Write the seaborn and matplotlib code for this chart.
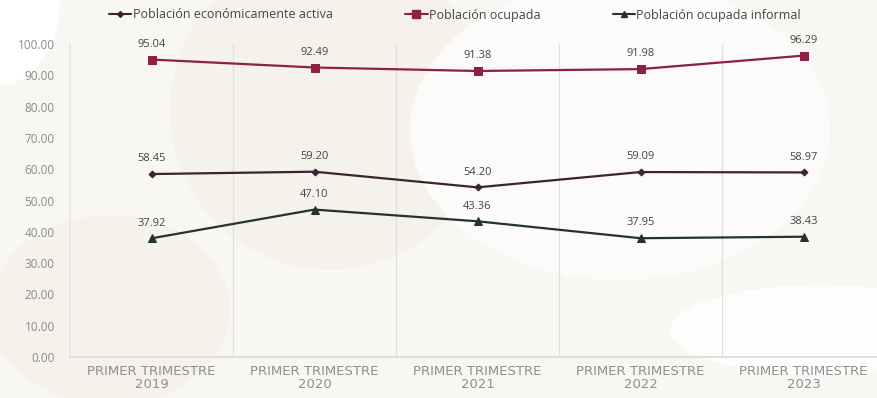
import matplotlib
matplotlib.use("Agg")
import matplotlib.pyplot as plt
from matplotlib.patches import Ellipse
from matplotlib.lines import Line2D
import seaborn as sns
import pandas as pd

periodos = ["PRIMER TRIMESTRE\n2019", "PRIMER TRIMESTRE\n2020", "PRIMER TRIMESTRE\n2021",
            "PRIMER TRIMESTRE\n2022", "PRIMER TRIMESTRE\n2023"]
pea = [58.45, 59.20, 54.20, 59.09, 58.97]
ocupada = [95.04, 92.49, 91.38, 91.98, 96.29]
informal = [37.92, 47.10, 43.36, 37.95, 38.43]

series = ["Población económicamente activa", "Población ocupada", "Población ocupada informal"]
colores = ["#3b2430", "#8e1f45", "#24342c"]
marcadores = ["D", "s", "^"]
tamanos = [3.5, 6, 5.5]

df = pd.DataFrame({
    "periodo": periodos * 3,
    "x": list(range(len(periodos))) * 3,
    "valor": pea + ocupada + informal,
    "serie": [series[0]] * 5 + [series[1]] * 5 + [series[2]] * 5,
})

sns.set_theme(style="white")
plt.rcParams["font.family"] = ["Open Sans", "DejaVu Sans"]

fig = plt.figure(figsize=(8.77, 3.98), dpi=100, facecolor="#f9f7f4")

# decorative background shapes
bg = fig.add_axes([0, 0, 1, 1], zorder=-5)
bg.set_xlim(0, 877)
bg.set_ylim(398, 0)
bg.axis("off")
for (cx, cy, w, h, c) in [
    (0, 0, 120, 170, "#ffffff"),
    (330, 110, 320, 320, "#f5f1eb"),
    (620, 130, 420, 300, "#fcfbfa"),
    (820, 330, 300, 90, "#fdfdfc"),
    (110, 310, 240, 190, "#f5f2ec"),
]:
    bg.add_patch(Ellipse((cx, cy), w, h, color=c, lw=0))

W, H = 877, 398
ax = fig.add_axes([70 / W, (H - 357) / H, (885 - 70) / W, (357 - 44) / H])
ax.patch.set_alpha(0)

for nombre, c, m, s in zip(series, colores, marcadores, tamanos):
    sub = df[df["serie"] == nombre]
    sns.lineplot(data=sub, x="x", y="valor", ax=ax, color=c, marker=m,
                 markersize=s, markeredgecolor=c, linewidth=1.6, legend=False)
    for xv, yv in zip(sub["x"], sub["valor"]):
        ax.annotate(f"{yv:.2f}", (xv, yv), xytext=(0, 7), textcoords="offset points",
                    ha="center", va="bottom", fontsize=8, color="#444444")

ax.set_xlim(-0.5, len(periodos) - 0.5)
ax.set_ylim(0, 100)
ax.set_yticks(range(0, 101, 10))
ax.set_yticklabels([f"{v:.2f}" for v in range(0, 101, 10)], fontsize=8.5, color="#8a8a8a")
ax.set_xticks(range(len(periodos)))
ax.set_xticklabels(periodos, fontsize=9.5, color="#8f8f8f", family="DejaVu Sans", linespacing=1.0)
ax.tick_params(axis="both", length=0)
ax.tick_params(axis="y", pad=11)
ax.tick_params(axis="x", pad=6)
ax.set_xlabel("")
ax.set_ylabel("")
for b in [0.5, 1.5, 2.5, 3.5]:
    ax.axvline(b, color="#e2dfdb", lw=0.9, zorder=0)
for side in ["top", "right"]:
    ax.spines[side].set_visible(False)
ax.spines["left"].set_color("#ebe8e4")
ax.spines["bottom"].set_color("#dddad6")

handles = [Line2D([], [], color=c, marker=m, markersize=s * 0.85, lw=1.5)
           for c, m, s in zip(colores, marcadores, tamanos)]
fig.legend(handles, series, loc="center", bbox_to_anchor=(455 / W, 1 - 15 / H), ncol=3,
           frameon=False, fontsize=9, handlelength=1.8, handletextpad=0.1,
           columnspacing=5.8, labelcolor="#444444")

fig.savefig("out.png", dpi=100, facecolor=fig.get_facecolor())
